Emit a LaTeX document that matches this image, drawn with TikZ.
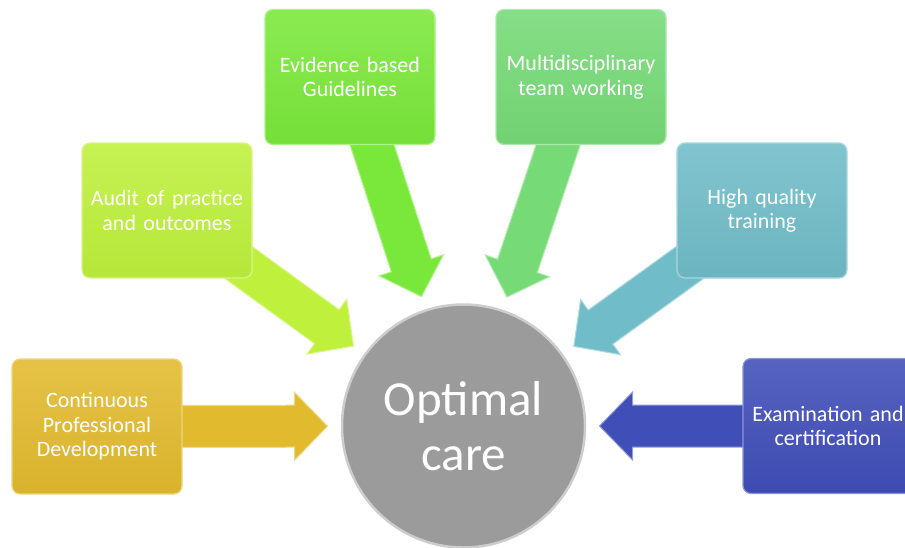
\documentclass[tikz,border=0pt]{standalone}
\usepackage{fontspec}
\setmainfont{Carlito}[WordSpace=0.8]
\usetikzlibrary{calc,backgrounds}
\definecolor{cpdC}{RGB}{226,186,46}
\definecolor{audC}{RGB}{190,240,60}
\definecolor{eviC}{RGB}{122,232,58}
\definecolor{mulC}{RGB}{118,218,118}
\definecolor{hqtC}{RGB}{112,188,200}
\definecolor{exaC}{RGB}{64,78,184}
\definecolor{circC}{RGB}{155,155,155}
\definecolor{circE}{RGB}{205,205,205}
\tikzset{
  boxnode/.style={rectangle, rounded corners=8pt, minimum width=170pt, minimum height=135pt,
    text width=166pt, align=center, text=white, inner sep=2pt, line width=1.2pt,
    font=\fontsize{22}{24.5}\selectfont},
  boxfill/.style={top color=#1!88!white, bottom color=#1!96!black, draw=#1!60!white},
  arrowfill/.style={fill=#1, draw=#1!55!white, line width=1pt, line join=miter},
}
\newcommand{\blkarrow}[2]{%
  \coordinate (S) at (#1.center);
  \coordinate (T) at ($(circ.center)!136pt!(#1.center)$);
  \coordinate (H) at ($(T)!33pt!(S)$);
  \path[arrowfill=#2] ($(S)!21pt!90:(T)$) -- ($(H)!21pt!90:(T)$) -- ($(H)!34pt!90:(T)$)
    -- (T) -- ($(H)!34pt!-90:(T)$) -- ($(H)!21pt!-90:(T)$) -- ($(S)!21pt!-90:(T)$) -- cycle;
}
\begin{document}
\begin{tikzpicture}[x=1pt,y=-1pt]
\useasboundingbox (0,0) rectangle (905,547);
\clip (0,0) rectangle (905,547);
\node[circle, minimum size=243pt, inner sep=0pt, fill=circC, draw=circE, line width=2.5pt,
  text=white, align=center, font=\fontsize{49}{55}\selectfont] (circ) at (463.5,426) {Optimal\\care};
\node[boxnode, boxfill=cpdC] (cpd) at (97,426.5) {Continuous\\Professional\\Development};
\node[boxnode, boxfill=audC] (aud) at (167,210.5) {Audit of practice\\and outcomes};
\node[boxnode, boxfill=eviC] (evi) at (350,77) {Evidence based\\Guidelines};
\node[boxnode, boxfill=mulC] (mul) at (581,77) {Multidisciplinary\\team working};
\node[boxnode, boxfill=hqtC] (hqt) at (762,210.5) {High quality\\training};
\node[boxnode, boxfill=exaC] (exa) at (828,426) {Examination and\\certification};
\begin{scope}[on background layer]
\blkarrow{cpd}{cpdC}
\blkarrow{aud}{audC}
\blkarrow{evi}{eviC}
\blkarrow{mul}{mulC}
\blkarrow{hqt}{hqtC}
\blkarrow{exa}{exaC}
\end{scope}
\end{tikzpicture}
\end{document}
